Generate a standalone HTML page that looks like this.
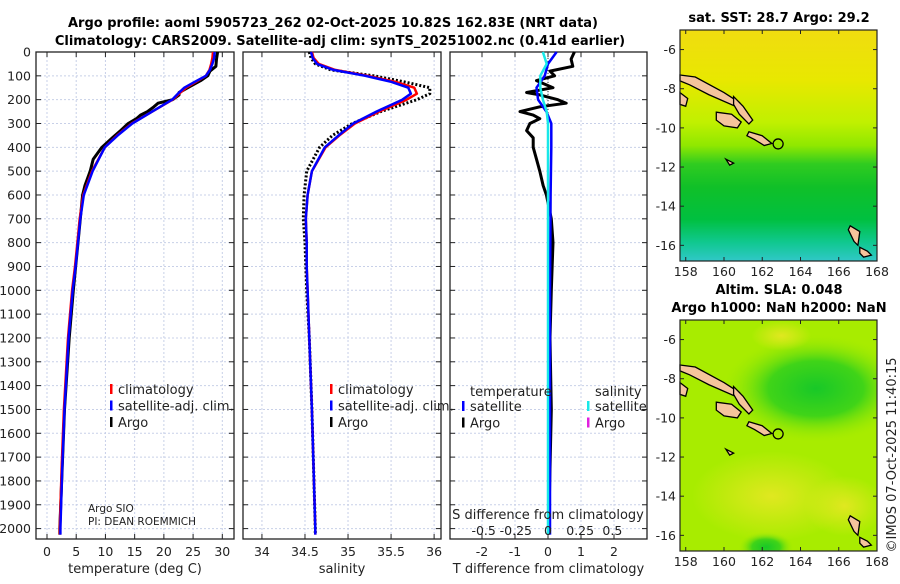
<!DOCTYPE html>
<html><head><meta charset="utf-8">
<style>
body{margin:0;background:#fff;width:900px;height:580px;overflow:hidden;font-family:"DejaVu Sans","Liberation Sans",sans-serif;}
svg text{font-family:"DejaVu Sans","Liberation Sans",sans-serif;fill:#222;}
</style></head><body>
<svg id="fig" width="900" height="580" viewBox="0 0 900 580" xmlns="http://www.w3.org/2000/svg">
<text x="333" y="27" font-size="13" font-weight="bold" text-anchor="middle" style="fill:#000">Argo profile: aoml 5905723_262 02-Oct-2025 10.82S 162.83E (NRT data)</text>
<text x="340" y="45" font-size="13" font-weight="bold" text-anchor="middle" style="fill:#000">Climatology: CARS2009. Satellite-adj clim: synTS_20251002.nc (0.41d earlier)</text>
<g id="p1"></g>
<g id="p2"></g>
<g id="p3"></g>
<g id="m1"></g>
<g id="m2"></g>
<text x="779" y="22" font-size="13" font-weight="bold" text-anchor="middle" style="fill:#000">sat. SST: 28.7 Argo: 29.2</text>
<text x="779" y="294" font-size="13" font-weight="bold" text-anchor="middle" style="fill:#000">Altim. SLA: 0.048</text>
<text x="779" y="312" font-size="13" font-weight="bold" text-anchor="middle" style="fill:#000">Argo h1000: NaN h2000: NaN</text>
<text transform="translate(896,455) rotate(-90)" font-size="13" text-anchor="middle">©IMOS 07-Oct-2025 11:40:15</text>
</svg>
<script>
// ---- data ----
const depthClim = [0,25,50,75,100,125,150,175,200,250,300,350,400,500,600,700,800,900,1000,1200,1500,1750,2000,2025];
const tempClim = [28.4,28.3,28.1,27.8,27.2,25.5,23.8,22.6,21.5,18.0,14.5,12.0,9.9,7.7,6.2,5.6,5.2,4.8,4.3,3.6,2.9,2.5,2.2,2.2];
const tempSat  = [28.7,28.6,28.3,27.9,27.2,25.3,23.5,22.4,21.4,18.0,14.6,12.1,9.9,7.8,6.3,5.7,5.3,4.9,4.4,3.7,3.0,2.6,2.3,2.3];
const depthArgo = [0,30,60,80,100,120,150,170,180,200,215,230,250,265,280,300,330,360,400,450,500,560,600,700,800,1000,1200,1500,2000,2025];
const tempArgo = [29.2,29.0,28.9,27.9,27.5,26.3,24.1,22.6,22.6,21.5,19.0,18.3,17.2,16.0,15.3,13.9,12.6,11.2,9.4,7.9,7.4,6.5,6.1,5.7,5.3,4.5,3.8,3.0,2.2,2.2];
const salClim = [34.58,34.6,34.66,34.85,35.23,35.55,35.77,35.8,35.68,35.36,35.08,34.9,34.74,34.58,34.53,34.51,34.52,34.52,34.53,34.55,34.58,34.60,34.62,34.62];
const salSat  = [34.57,34.59,34.64,34.83,35.2,35.5,35.7,35.73,35.63,35.33,35.06,34.89,34.73,34.58,34.53,34.51,34.52,34.52,34.53,34.55,34.58,34.60,34.62,34.62];
const salArgo = [34.55,34.57,34.62,34.8,35.3,35.65,35.95,35.95,35.8,35.38,35.05,34.82,34.67,34.52,34.49,34.48,34.5,34.51,34.52,34.55,34.58,34.6,34.62,34.62];
const dTArgo = [0.8,0.7,0.75,0.06,0.2,-0.35,0.15,-0.65,-0.25,0.3,0.55,-0.25,-0.85,-0.45,-0.25,-0.55,-0.65,-0.45,-0.45,-0.35,-0.25,-0.15,-0.05,0.1,0.15,0.1,0.06,0.1,0.02,0.02];
const depthDiff = [0,50,100,150,200,250,300,400,600,1000,1500,2000,2025];
const dTSat = [0.26,0.0,-0.1,-0.35,-0.3,-0.05,0.1,0.1,0.08,0.06,0.06,0.06,0.06];
const dSSat = [-0.04,-0.01,-0.06,-0.06,-0.04,-0.01,0.0,0.0,0.0,0.0,0.0,0.0,0.0];
const depthTicks = [0,100,200,300,400,500,600,700,800,900,1000,1100,1200,1300,1400,1500,1600,1700,1800,1900,2000];
const tTicks = [0,5,10,15,20,25,30];
const sTicks = [34,34.5,35,35.5,36];
const dTicks = [-2,-1,0,1,2];
const dSTicks = [-0.5,-0.25,0,0.25,0.5];
const dSLabels = ["-0.5","-0.25","0","0.25","0.5"];
const lonTicks = [158,160,162,164,166,168];
const latTicks = [-6,-8,-10,-12,-14,-16];

const NS="http://www.w3.org/2000/svg";
function el(parent,tag,attrs){const e=document.createElementNS(NS,tag);for(const k in attrs)e.setAttribute(k,attrs[k]);parent.appendChild(e);return e;}
const Y0=52,Y1=539,yScale=d=>Y0+d*0.2383;

function panel(g,x0,x1,xmin,xmax,xticks,xlabels,xtitle,showY){
  const sx=v=>x0+(v-xmin)/(xmax-xmin)*(x1-x0);
  depthTicks.forEach(d=>{const y=yScale(d);
    const gl=el(g,'line',{x1:x0,x2:x1,y1:y,y2:y,stroke:'#c8d0e8','stroke-width':1,'stroke-dasharray':'2,2'});
    
    el(g,'line',{x1:x0,x2:x0+5,y1:y,y2:y,stroke:'#222'});el(g,'line',{x1:x1-5,x2:x1,y1:y,y2:y,stroke:'#222'});
    if(showY){const t=el(g,'text',{x:x0-5,y:y+4.5,'font-size':12.5,'text-anchor':'end'});t.textContent=d;
      }
  });
  xticks.forEach((v,i)=>{const x=sx(v);
    el(g,'line',{x1:x,x2:x,y1:Y0,y2:Y1,stroke:'#c8d0e8','stroke-dasharray':'2,2'});
    el(g,'line',{x1:x,x2:x,y1:Y1-5,y2:Y1,stroke:'#222'});el(g,'line',{x1:x,x2:x,y1:Y0,y2:Y0+5,stroke:'#222'});
    const t=el(g,'text',{x:x,y:556,'font-size':12.5,'text-anchor':'middle'});t.textContent=xlabels[i];
    
  });
  const r=el(g,'rect',{x:x0,y:Y0,width:x1-x0,height:Y1-Y0,fill:'none',stroke:'#222','stroke-width':1.3});
  
  const tt=el(g,'text',{x:(x0+x1)/2,y:573,'font-size':13,'text-anchor':'middle'});tt.textContent=xtitle;
  
  return sx;
}
function line(g,sx,depths,vals,color,w,dash,name){
  const pts=depths.map((d,i)=>sx(vals[i]).toFixed(1)+','+yScale(d).toFixed(1)).join(' ');
  const p=el(g,'polyline',{points:pts,fill:'none',stroke:color,'stroke-width':w,'stroke-linejoin':'round'});
  if(dash)p.setAttribute('stroke-dasharray',dash);
  
}
function legend(g,x,y,items){
  items.forEach((it,i)=>{const yy=y+i*16.5;
    el(g,'rect',{x:x,y:yy-8,width:2.5,height:10,fill:it[1]});
    const t=el(g,'text',{x:x+8,y:yy+2,'font-size':13});t.textContent=it[0];
    
  });
}
// panel 1
const g1=document.getElementById('p1');
const s1=panel(g1,36,234,-1.88,32,tTicks,tTicks.map(String),'temperature (deg C)',true);
line(g1,s1,depthArgo,tempArgo,'#000',3,null,'argo-temperature-line');
line(g1,s1,depthClim,tempClim,'#f00',2.5,null,'climatology-temperature-line');
line(g1,s1,depthClim,tempSat,'#00f',2.5,null,'satellite-temperature-line');
legend(g1,110,392,[['climatology','#f00'],['satellite-adj. clim.','#00f'],['Argo','#000']]);
let t=el(g1,'text',{x:88,y:512,'font-size':10.5});t.textContent='Argo SIO';

t=el(g1,'text',{x:88,y:525,'font-size':10.5});t.textContent='PI: DEAN ROEMMICH';

// panel 2
const g2=document.getElementById('p2');
const s2=panel(g2,243,441,33.78,36.08,sTicks,sTicks.map(String),'salinity',false);
line(g2,s2,depthClim,salArgo,'#000',3,'2,2','argo-salinity-line');
line(g2,s2,depthClim,salClim,'#f00',2.5,null,'climatology-salinity-line');
line(g2,s2,depthClim,salSat,'#00f',2.5,null,'satellite-salinity-line');
legend(g2,330,392,[['climatology','#f00'],['satellite-adj. clim.','#00f'],['Argo','#000']]);
// panel 3
const g3=document.getElementById('p3');
const s3=panel(g3,450,647,-2.97,3.0,dTicks,dTicks.map(String),'T difference from climatology',false);
el(g3,'line',{x1:s3(0),x2:s3(0),y1:Y0,y2:Y1,stroke:'#333','stroke-dasharray':'1,2'});
const sS=v=>s3(v*3.9);
line(g3,s3,depthArgo,dTArgo,'#000',3,null,'argo-temperature-difference-line');
line(g3,s3,depthDiff,dTSat,'#00f',2.5,null,'satellite-temperature-difference-line');
line(g3,sS,depthDiff,dSSat,'#18e8e8',2.5,null,'satellite-salinity-difference-line');
t=el(g3,'text',{x:470,y:396,'font-size':13});t.textContent='temperature';

t=el(g3,'text',{x:595,y:396,'font-size':13});t.textContent='salinity';

legend(g3,462,409,[['satellite','#00f'],['Argo','#000']]);
legend(g3,587,409,[['satellite','#18e8e8'],['Argo','#e020e0']]);
t=el(g3,'text',{x:548,y:519,'font-size':13,'text-anchor':'middle'});t.textContent='S difference from climatology';

dSTicks.forEach((v,i)=>{const tx=el(g3,'text',{x:sS(v),y:535,'font-size':12.5,'text-anchor':'middle'});tx.textContent=dSLabels[i];
  });

// maps
function map(id,top,bot,kind){
  const g=document.getElementById(id);
  const x0=680,x1=877;
  const sx=lon=>x0+(lon-157.7)/(168-157.7)*(x1-x0);
  const sy=lat=>top+(-5-lat)/(11.8)*(bot-top);
  const defs=el(g,'defs',{});
  const cp=el(defs,'clipPath',{id:id+'c'});
  el(cp,'rect',{x:x0,y:top,width:x1-x0,height:bot-top});
  const bg=el(g,'g',{'clip-path':`url(#${id}c)`});
  
  
  if(kind==='sst'){
    const lg=el(defs,'linearGradient',{id:id+'g',x1:0,y1:0,x2:0,y2:1});
    [[0,'#f0dc10'],[0.22,'#e8e800'],[0.4,'#c0f000'],[0.5,'#90e800'],[0.58,'#30cc20'],[0.68,'#10c028'],[0.82,'#00c040'],[0.92,'#10c890'],[1,'#30c8c8']].forEach(s=>el(lg,'stop',{offset:s[0],'stop-color':s[1]}));
    el(bg,'rect',{x:x0,y:top,width:x1-x0,height:bot-top,fill:`url(#${id}g)`});
  } else {
    el(bg,'rect',{x:x0,y:top,width:x1-x0,height:bot-top,fill:'#a8ec00'});
    const rg=el(defs,'radialGradient',{id:id+'r'});
    el(rg,'stop',{offset:0,'stop-color':'#18c828'});el(rg,'stop',{offset:0.5,'stop-color':'#40d418'});el(rg,'stop',{offset:1,'stop-color':'#a8ec00','stop-opacity':0});
    el(bg,'ellipse',{cx:sx(164.8),cy:sy(-8.5),rx:95,ry:55,fill:`url(#${id}r)`});
    el(bg,'ellipse',{cx:sx(162.2),cy:sy(-16.6),rx:28,ry:16,fill:`url(#${id}r)`});
    const yg=el(defs,'radialGradient',{id:id+'y'});
    el(yg,'stop',{offset:0,'stop-color':'#e0e820'});el(yg,'stop',{offset:1,'stop-color':'#e0e820','stop-opacity':0});
    el(bg,'ellipse',{cx:sx(162.5),cy:sy(-14),rx:80,ry:45,fill:`url(#${id}y)`});
    el(bg,'ellipse',{cx:sx(166.3),cy:sy(-14.5),rx:40,ry:30,fill:`url(#${id}y)`});
    el(bg,'ellipse',{cx:sx(163),cy:sy(-5.8),rx:30,ry:15,fill:`url(#${id}y)`});
  }
  const isl=[[[157.7,-7.3],[158.5,-7.4],[160,-8.2],[160.8,-8.7],[160.6,-8.9],[159.2,-8.3],[158.2,-7.8],[157.7,-7.6]],
   [[160.5,-8.4],[161,-8.9],[161.5,-9.6],[161.3,-9.8],[160.8,-9.3],[160.5,-8.8]],
   [[159.6,-9.2],[160.4,-9.3],[160.9,-9.7],[160.7,-10.0],[160.0,-9.9],[159.6,-9.6]],
   [[161.3,-10.2],[162.0,-10.4],[162.5,-10.8],[162.1,-10.9],[161.6,-10.6],[161.2,-10.4]],
   [[157.7,-8.2],[158.1,-8.5],[158.0,-8.9],[157.7,-8.8]],
   [[166.6,-15.0],[167.1,-15.3],[167.0,-16.0],[166.8,-15.8],[166.5,-15.2]],
   [[167.1,-16.1],[167.5,-16.3],[167.7,-16.5],[167.3,-16.6],[167.1,-16.4]],
   [[160.1,-11.6],[160.5,-11.8],[160.3,-11.9]]];
  isl.forEach(p=>{const pg=el(g,'polygon',{points:p.map(q=>sx(q[0]).toFixed(1)+','+sy(q[1]).toFixed(1)).join(' '),fill:'#f5c49c',stroke:'#000','stroke-width':1.3});
    });
  const c=el(g,'circle',{cx:sx(162.83),cy:sy(-10.82),r:5,fill:'none',stroke:'#000','stroke-width':1.3});
  
  el(g,'rect',{x:x0,y:top,width:x1-x0,height:bot-top,fill:'none',stroke:'#222','stroke-width':1.2});
  lonTicks.forEach(v=>{const x=sx(v);el(g,'line',{x1:x,x2:x,y1:bot-4,y2:bot,stroke:'#222'});el(g,'line',{x1:x,x2:x,y1:top,y2:top+4,stroke:'#222'});
    const tx=el(g,'text',{x:x,y:bot+15,'font-size':12.5,'text-anchor':'middle'});tx.textContent=v;
    });
  latTicks.forEach(v=>{const y=sy(v);el(g,'line',{x1:x0,x2:x0+4,y1:y,y2:y,stroke:'#222'});el(g,'line',{x1:x1-4,x2:x1,y1:y,y2:y,stroke:'#222'});
    const tx=el(g,'text',{x:x0-4,y:y+4.5,'font-size':12.5,'text-anchor':'end'});tx.textContent=v;
    });
}
map('m1',30,261,'sst');
map('m2',320,551,'sla');
</script>
</body></html>
